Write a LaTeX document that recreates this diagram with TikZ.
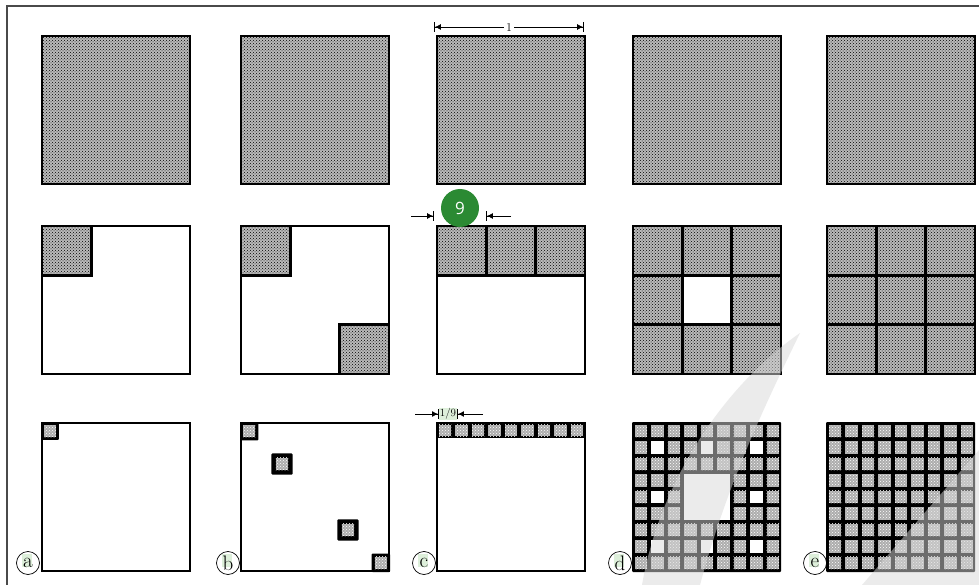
\documentclass[tikz,border=0pt]{standalone}
\usepackage{fontspec}
\newfontfamily\badgefont{Open Sans}
\usetikzlibrary{patterns,arrows.meta}
\definecolor{framec}{HTML}{4A4A4A}
\definecolor{badge}{HTML}{2B8A33}
\definecolor{hl}{HTML}{DDEFDA}
\definecolor{wm}{HTML}{D8D8D8}
\pgfmathsetmacro\tcell{148/3}
\pgfmathsetmacro\ncell{148/9}
\newcommand\smallcell[5]{% x0 y0 col row outset
  \fill[black,rounded corners=1pt] ({#1+#3*\ncell-#5},{#2+#4*\ncell-#5}) rectangle ++({\ncell+2*#5},{\ncell+2*#5});
  \path[smalltex] ({#1+#3*\ncell+2},{#2+#4*\ncell+2}) rectangle ++({\ncell-4},{\ncell-4});}
\newcommand\bigcell[4]{% x0 y0 col row
  \path[bigtex] ({#1+#3*\tcell},{#2+#4*\tcell}) rectangle ++(\tcell,\tcell);}
\begin{document}
\begin{tikzpicture}[x=1pt,y=-1pt,
  bigtex/.style={fill=black!27,postaction={pattern=crosshatch dots,pattern color=black}},
  smalltex/.style={fill=black!32,postaction={pattern=crosshatch dots,pattern color=white}},
  bord/.style={draw=black,line width=2.8pt},
  dim/.style={line width=0.8pt,-{Latex[length=6pt,width=6pt]Bar[width=10pt,line width=0.9pt]}},
  lab/.style={circle,draw=black,line width=0.7pt,minimum size=23pt,inner sep=0pt,font=\fontsize{21}{21}\selectfont},
  hlbox/.style={fill=hl,inner sep=0pt,minimum width=10pt,minimum height=13pt}]
\useasboundingbox (0,0) rectangle (979,585);
\clip (0,0) rectangle (979,585);
\fill[white] (0,0) rectangle (979,585);
\draw[framec,line width=1.5pt] (7,600) -- (7,6) -- (990,6);

% ---------- row 1 ----------
\foreach \x in {42,241,437,633,827}
  \draw[bord,bigtex] (\x,36) rectangle ++(148,148);

% ---------- row 2 ----------
% a
\bigcell{42}{226}{0}{0}
\draw[bord] (42,226) rectangle ++(\tcell,\tcell);
\draw[bord] (42,226) rectangle ++(148,148);
% b
\bigcell{241}{226}{0}{0}
\bigcell{241}{226}{2}{2}
\draw[bord] (241,226) rectangle ++(\tcell,\tcell);
\draw[bord] ({241+2*\tcell},{226+2*\tcell}) rectangle ++(\tcell,\tcell);
\draw[bord] (241,226) rectangle ++(148,148);
% c
\foreach \i in {0,1,2} {\bigcell{437}{226}{\i}{0}}
\draw[bord] (437,{226+\tcell}) -- ++(148,0);
\foreach \k in {1,2} \draw[bord] ({437+\k*\tcell},226) -- ++(0,\tcell);
\draw[bord] (437,226) rectangle ++(148,148);
% d and e
\foreach \x in {633,827} {
  \foreach \i in {0,1,2} {\foreach \j in {0,1,2} {\bigcell{\x}{226}{\i}{\j}}}
  \foreach \k in {1,2} {
    \draw[bord] ({\x+\k*\tcell},226) -- ++(0,148);
    \draw[bord] (\x,{226+\k*\tcell}) -- ++(148,0);}
  \draw[bord] (\x,226) rectangle ++(148,148);}
\fill[white] ({633+\tcell+1.4},{226+\tcell+1.4}) rectangle ++({\tcell-2.8},{\tcell-2.8});

% ---------- row 3 ----------
% a
\draw[bord] (42,423) rectangle ++(148,148);
\smallcell{42}{423}{0}{0}{0.5}
% b
\draw[bord] (241,423) rectangle ++(148,148);
\smallcell{241}{423}{0}{0}{1}
\smallcell{241}{423}{2}{2}{2.4}
\smallcell{241}{423}{6}{6}{2.4}
\smallcell{241}{423}{8}{8}{1}
% c
\draw[bord] (437,423) rectangle ++(148,148);
\fill[black] (437,423) rectangle ++(148,{\ncell-1});
\foreach \i in {0,...,8} {\path[smalltex] ({437+\i*\ncell+2},{423+1.5}) rectangle ++({\ncell-4},{\ncell-4.5});}
% d
\fill[black,rounded corners=1pt] (632,422) rectangle ++(149,150);
\foreach \i in {0,...,8} {\foreach \j in {0,...,8} {
  \pgfmathtruncatemacro\holeA{and(mod(\i,3)==1,mod(\j,3)==1)}
  \pgfmathtruncatemacro\holeB{and(and(\i>2,\i<6),and(\j>2,\j<6))}
  \ifnum\holeB=0
    \ifnum\holeA=1
      \fill[white] ({633+\i*\ncell+2},{423+\j*\ncell+2}) rectangle ++({\ncell-4},{\ncell-4});
    \else
      \path[smalltex] ({633+\i*\ncell+2},{423+\j*\ncell+2}) rectangle ++({\ncell-4},{\ncell-4});
    \fi
  \fi}}
\fill[white] ({633+3*\ncell+2},{423+3*\ncell+2}) rectangle ++({3*\ncell-4},{3*\ncell-4});
% e
\fill[black,rounded corners=1pt] (826,422) rectangle ++(149,150);
\foreach \i in {0,...,8} {\foreach \j in {0,...,8} {
  \path[smalltex] ({827+\i*\ncell+2},{423+\j*\ncell+2}) rectangle ++({\ncell-4},{\ncell-4});}}

% ---------- dimensions ----------
\coordinate (d1l) at (434,27);
\coordinate (d1r) at (584,27);
\node[fill=white,inner sep=2pt,font=\fontsize{12}{12}\selectfont] (one) at (509,28) {1};
\draw[dim] (one.west |- d1l) -- (d1l);
\draw[dim] (one.east |- d1r) -- (d1r);

\coordinate (n9l) at (411,216);
\coordinate (n9lt) at (434,216);
\coordinate (n9r) at (511,216);
\coordinate (n9rt) at (486,216);
\draw[dim] (n9l) -- (n9lt);
\draw[dim] (n9r) -- (n9rt);
\node[circle,fill=badge,minimum size=38pt,inner sep=0pt,text=white,font=\badgefont\fontsize{17}{17}\selectfont] (nine) at (460,208) {9};

\node[fill=hl,inner sep=0.8pt,font=\fontsize{11}{11}\selectfont] (ninth) at (448,414) {1/9};
\coordinate (t9l) at (415,414);
\coordinate (t9r) at (483,414);
\draw[dim] (t9l) -- (ninth.west);
\draw[dim] (t9r) -- (ninth.east);

% ---------- labels ----------
\foreach \n/\x/\t in {la/28/a,lb/228/b,lc/424/c,ld/620/d,le/815/e} {
  \node[hlbox] at ({\x-1},{560}) {};
  \node[lab] (\n) at (\x,563) {\t};}

% ---------- watermark ----------
\fill[wm,opacity=0.5] (642,585) .. controls (660,480) and (725,385) .. (800,333)
  .. controls (770,395) and (728,480) .. (700,585) -- cycle;
\fill[wm,opacity=0.5] (979,450) -- (979,585) -- (862,585) -- cycle;
\end{tikzpicture}
\end{document}
